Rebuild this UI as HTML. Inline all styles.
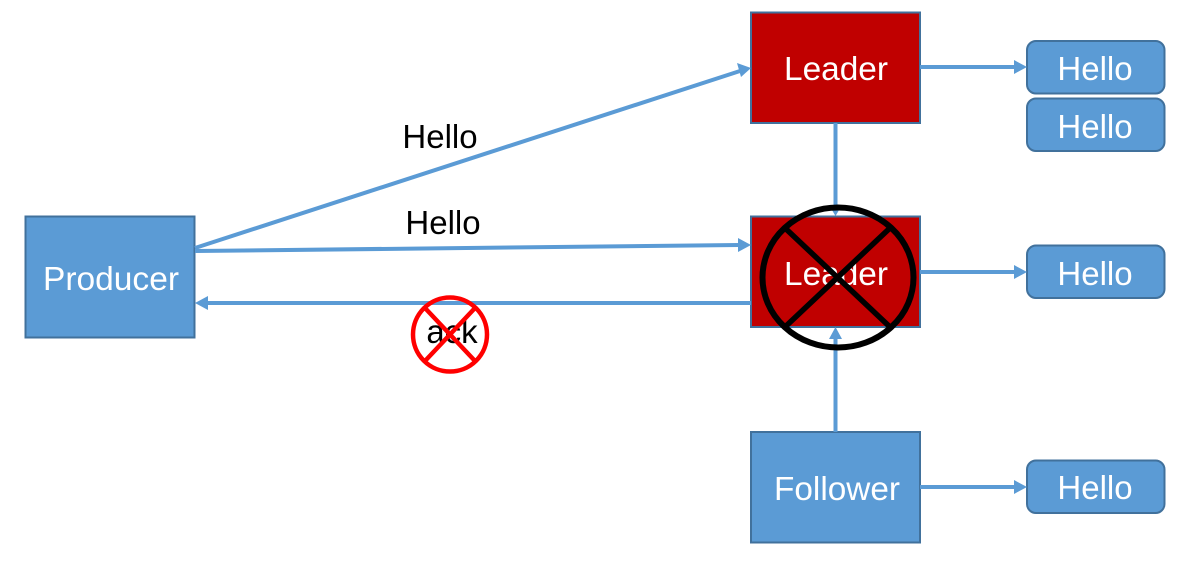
<!DOCTYPE html>
<html>
<head>
<meta charset="utf-8">
<style>
html,body{margin:0;padding:0;background:#fff;width:1190px;height:577px;overflow:hidden}
svg{display:block}
text{font-family:"Liberation Sans",Arial,sans-serif;font-size:33px}
.w{fill:#fff;text-anchor:middle}
.k{fill:#000;text-anchor:middle}
.b{fill:#5B9BD5;stroke:#41719C;stroke-width:2}
.r{fill:#C00000;stroke:#41719C;stroke-width:2}
.l{stroke:#5B9BD5;stroke-width:4;fill:none}
.a{fill:#5B9BD5}
</style>
</head>
<body>
<svg width="1190" height="577" viewBox="0 0 1190 577" xmlns="http://www.w3.org/2000/svg">
<rect class="b" x="25.5" y="216.5" width="169" height="121"/>
<rect class="r" x="751" y="12.5" width="169" height="110.500"/>
<rect class="r" x="751" y="216.500" width="169" height="110.500"/>
<rect class="b" x="751" y="432" width="169" height="110.500"/>
<rect class="b" x="1027" y="41" width="137.500" height="52.500" rx="9"/>
<rect class="b" x="1027" y="98.500" width="137.500" height="52.500" rx="9"/>
<rect class="b" x="1027" y="245.500" width="137.500" height="52.500" rx="9"/>
<rect class="b" x="1027" y="460.500" width="137.500" height="52.500" rx="9"/>

<line class="l" x1="195" y1="248" x2="740" y2="71"/>
<polygon class="a" points="751,68 737,63 741,77"/>
<line class="l" x1="195" y1="251" x2="739" y2="245"/>
<polygon class="a" points="751,245 738,238 738,252"/>
<line class="l" x1="751" y1="303" x2="206" y2="303"/>
<polygon class="a" points="195,303 208,296 208,310"/>
<line class="l" x1="835.500" y1="123" x2="835.500" y2="206"/>
<polygon class="a" points="835.500,216 829,205 842,205"/>
<line class="l" x1="835.500" y1="432" x2="835.500" y2="338"/>
<polygon class="a" points="835.500,327 829,339 842,339"/>
<line class="l" x1="920" y1="67" x2="1015" y2="67"/>
<polygon class="a" points="1027,67 1014,60 1014,74"/>
<line class="l" x1="920" y1="272" x2="1015" y2="272"/>
<polygon class="a" points="1027,272 1014,265 1014,279"/>
<line class="l" x1="920" y1="487" x2="1015" y2="487"/>
<polygon class="a" points="1027,487 1014,480 1014,494"/>

<text class="w" x="111" y="290" textLength="136" lengthAdjust="spacingAndGlyphs">Producer</text>
<text class="w" x="836" y="80" textLength="104" lengthAdjust="spacingAndGlyphs">Leader</text>
<text class="w" x="836" y="285" textLength="104" lengthAdjust="spacingAndGlyphs">Leader</text>
<text class="w" x="837" y="500" textLength="126" lengthAdjust="spacingAndGlyphs">Follower</text>
<text class="w" x="1095" y="80">Hello</text>
<text class="w" x="1095" y="138">Hello</text>
<text class="w" x="1095" y="285">Hello</text>
<text class="w" x="1095" y="499">Hello</text>
<text class="k" x="440" y="148">Hello</text>
<text class="k" x="443" y="234">Hello</text>
<text class="k" x="452" y="343">ack</text>

<ellipse cx="838" cy="277.500" rx="75.500" ry="70" fill="none" stroke="#000" stroke-width="6"/>
<line x1="785" y1="228" x2="890" y2="327" stroke="#000" stroke-width="5.500"/>
<line x1="890" y1="228" x2="785" y2="327" stroke="#000" stroke-width="5.500"/>

<circle cx="450" cy="334.500" r="37" fill="none" stroke="#FF0000" stroke-width="4.500"/>
<line x1="425" y1="308" x2="475" y2="361" stroke="#FF0000" stroke-width="4.500"/>
<line x1="475" y1="308" x2="425" y2="361" stroke="#FF0000" stroke-width="4.500"/>
</svg>
</body>
</html>
